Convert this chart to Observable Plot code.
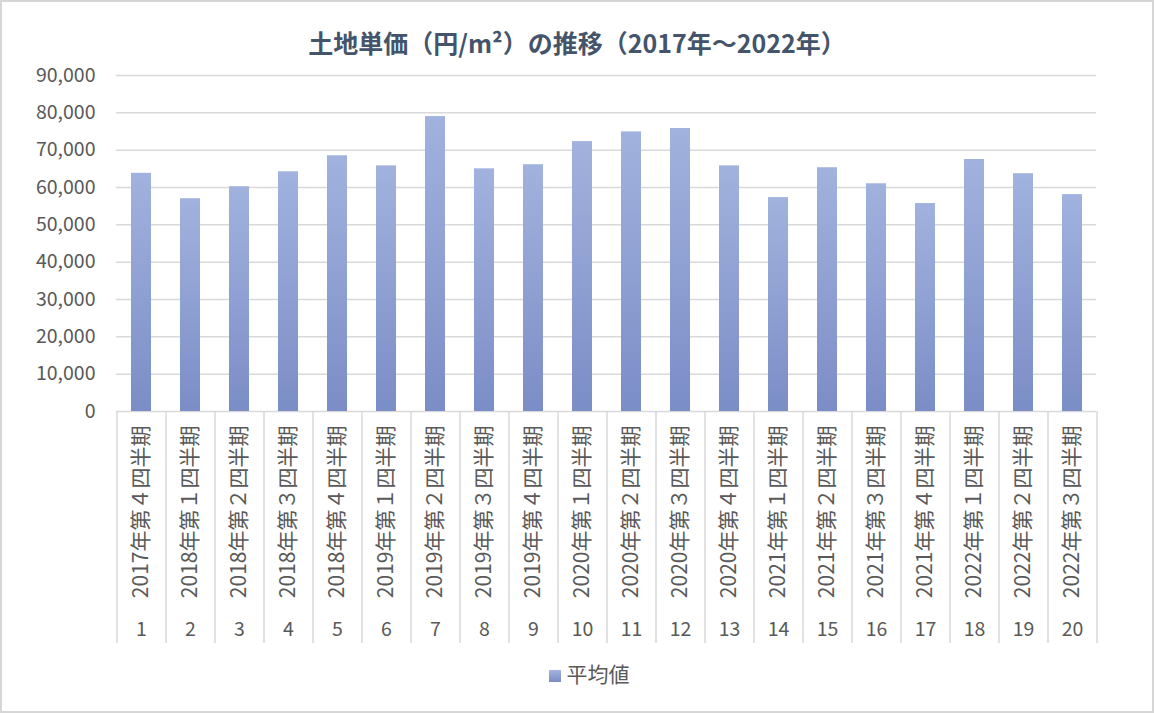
<!DOCTYPE html>
<html>
<head>
<meta charset="utf-8">
<script src="https://cdn.jsdelivr.net/npm/d3@7"></script>
<script src="https://cdn.jsdelivr.net/npm/@observablehq/plot@0.6"></script>
<style>
  html, body { margin: 0; padding: 0; background: #fff; }
  #wrap { position: relative; width: 1154px; height: 713px; font-family: "Noto Sans CJK JP", "Noto Sans", sans-serif; overflow: hidden; }
  #frame { position: absolute; left: 0; top: 0; width: 1154px; height: 713px; box-sizing: border-box; border: 2px solid #d6d6d6; pointer-events: none; }
  #title { height: 60px; box-sizing: border-box; padding-top: 26px; line-height: 32px; text-align: center; font-size: 25px; font-weight: bold; color: #44546a; }
  #chart svg { display: block; }
  #legend { height: 26px; line-height: 26px; text-align: center; font-size: 21px; color: #595959; padding-left: 24px; }
  #legend .sw { display: inline-block; width: 12px; height: 12px; background: linear-gradient(#a3b3de, #7b8dc6); margin-right: 6px; vertical-align: 0px; }
</style>
</head>
<body>
<div id="wrap">
  <div id="title">土地単価（円/m²）の推移（2017年～2022年）</div>
  <div id="chart"></div>
  <div id="legend"><span class="sw"></span>平均値</div>
  <div id="frame"></div>
</div>
<script>
// ---- data ----
const periodNumbers = [1, 2, 3, 4, 5, 6, 7, 8, 9, 10, 11, 12, 13, 14, 15, 16, 17, 18, 19, 20];
const periodLabels = [
  "2017年第４四半期", "2018年第１四半期", "2018年第２四半期", "2018年第３四半期",
  "2018年第４四半期", "2019年第１四半期", "2019年第２四半期", "2019年第３四半期",
  "2019年第４四半期", "2020年第１四半期", "2020年第２四半期", "2020年第３四半期",
  "2020年第４四半期", "2021年第１四半期", "2021年第２四半期", "2021年第３四半期",
  "2021年第４四半期", "2022年第１四半期", "2022年第２四半期", "2022年第３四半期"
];
const averageValues = [63800, 57000, 60200, 64200, 68500, 65800, 79000, 65000, 66100, 72300,
                       74900, 75800, 65800, 57300, 65300, 61000, 55700, 67500, 63700, 58100];
const yTicks = [0, 10000, 20000, 30000, 40000, 50000, 60000, 70000, 80000, 90000];

const data = periodNumbers.map((n, i) => ({n, label: periodLabels[i], value: averageValues[i]}));

// ---- layout ----
const W = 1154, H = 600, mL = 116, mR = 58, mT = 15, mB = 249;
const bw = (W - mL - mR) / periodNumbers.length;
const plotH = H - mT - mB;
const grid = "#d9d9d9";

const chart = Plot.plot({
  width: W, height: H,
  marginLeft: mL, marginRight: mR, marginTop: mT, marginBottom: mB,
  style: {color: "#595959", fontFamily: "'Noto Sans CJK JP', 'Noto Sans', sans-serif", background: "transparent"},
  x: {type: "band", domain: periodNumbers, paddingInner: 0.6, paddingOuter: 0.3, label: null},
  y: {domain: [0, 90000], label: null},
  marks: [
    Plot.ruleY(yTicks, {y: d => d, stroke: grid, strokeWidth: 1.5}),
    Plot.ruleX(data, {x: "n", dx: -bw / 2, insetTop: plotH, insetBottom: -232, stroke: grid, strokeWidth: 1.5}),
    Plot.ruleX(data.slice(-1), {x: "n", dx: bw / 2, insetTop: plotH, insetBottom: -232, stroke: grid, strokeWidth: 1.5}),
    Plot.barY(data, {x: "n", y: "value", fill: "url(#barGrad)"}),
    Plot.axisY({ticks: yTicks, tickSize: 0, tickPadding: 21, tickFormat: d3.format(","), fontSize: 19.5, label: null}),
    Plot.axisX({tickSize: 0, tickPadding: 211, fontSize: 19.5, label: null}),
    Plot.text(data, {x: "n", text: "label", frameAnchor: "bottom", rotate: -90, textAnchor: "end", lineAnchor: "middle", dy: 14, fontSize: 21, fill: "#595959"})
  ]
});

// gradient definition for the bars
const svgSel = d3.select(chart);
const defs = svgSel.insert("defs", ":first-child");
const lg = defs.append("linearGradient").attr("id", "barGrad").attr("x1", 0).attr("y1", 0).attr("x2", 0).attr("y2", 1);
lg.append("stop").attr("offset", "0%").attr("stop-color", "#a2b2de");
lg.append("stop").attr("offset", "100%").attr("stop-color", "#7b8dc6");

document.getElementById("chart").appendChild(chart);
</script>
</body>
</html>
